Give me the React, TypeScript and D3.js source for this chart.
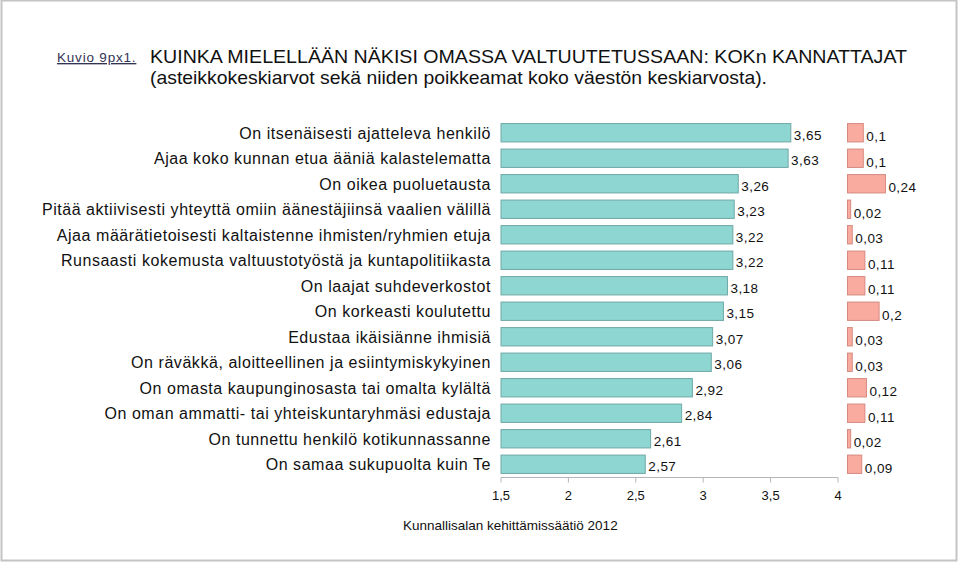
import React from "react";
import * as d3 from "d3";

const categories: string[] = [
  "On itsenäisesti ajatteleva henkilö",
  "Ajaa koko kunnan etua ääniä kalastelematta",
  "On oikea puoluetausta",
  "Pitää aktiivisesti yhteyttä omiin äänestäjiinsä vaalien välillä",
  "Ajaa määrätietoisesti kaltaistenne ihmisten/ryhmien etuja",
  "Runsaasti kokemusta valtuustotyöstä ja kuntapolitiikasta",
  "On laajat suhdeverkostot",
  "On korkeasti koulutettu",
  "Edustaa ikäisiänne ihmisiä",
  "On räväkkä, aloitteellinen ja esiintymiskykyinen",
  "On omasta kaupunginosasta tai omalta kylältä",
  "On oman ammatti- tai yhteiskuntaryhmäsi edustaja",
  "On tunnettu henkilö kotikunnassanne",
  "On samaa sukupuolta kuin Te",
];
const means: number[] = [3.65, 3.63, 3.26, 3.23, 3.22, 3.22, 3.18, 3.15, 3.07, 3.06, 2.92, 2.84, 2.61, 2.57];
const deviations: number[] = [0.1, 0.1, 0.24, 0.02, 0.03, 0.11, 0.11, 0.2, 0.03, 0.03, 0.12, 0.11, 0.02, 0.09];
const xTicks: number[] = [1.5, 2, 2.5, 3, 3.5, 4];

const fmt = (v: number) => String(v).replace(".", ",");

export default function App() {
  const W = 960, H = 563;
  const x = d3.scaleLinear().domain([1.5, 4]).range([501, 838]);
  const xd = d3.scaleLinear().domain([0, 0.25]).range([847.5, 887]);
  const y = d3.scaleBand<string>().domain(categories).range([120, 477]).paddingInner(0.28).paddingOuter(0.14);
  const axisY = 477.5;
  const font = "'Liberation Sans', Arial, Helvetica, sans-serif";
  return (
    <svg width={W} height={H} style={{ position: "absolute", left: 0, top: 0 }} fontFamily={font}>
      <rect x={0} y={0} width={W} height={H} fill="#fff" />
      <rect x={1.5} y={0.5} width={955} height={560} fill="none" stroke="#c4c4c4" strokeWidth={2} />
      <text x={57} y={62} fontSize={13.5} letterSpacing={0.8} fill="#333355" textDecoration="underline">Kuvio 9px1.</text>
      <text x={150} y={62.5} fontSize={19} fill="#111" textLength={757} lengthAdjust="spacingAndGlyphs">KUINKA MIELELLÄÄN NÄKISI OMASSA VALTUUTETUSSAAN: KOKn KANNATTAJAT</text>
      <text x={150} y={84} fontSize={19} fill="#111" textLength={617} lengthAdjust="spacingAndGlyphs">(asteikkokeskiarvot sekä niiden poikkeamat koko väestön keskiarvosta).</text>
      {categories.map((c, i) => {
        const yy = y(c)!;
        const bw = y.bandwidth();
        return (
          <g key={c}>
            <text x={491} y={yy + bw / 2 + 5.8} fontSize={16} letterSpacing={0.55} textAnchor="end" fill="#111">{c}</text>
            <rect x={x(1.5)} y={yy} width={x(means[i]) - x(1.5)} height={bw} fill="#8ed6d2" stroke="#6fa9a6" strokeWidth={1} />
            <text x={x(means[i]) + 3} y={yy + bw / 2 + 7} fontSize={13.5} letterSpacing={0.45} fill="#111">{fmt(means[i])}</text>
            <rect x={xd(0)} y={yy} width={xd(deviations[i]) - xd(0)} height={bw} fill="#f9aba0" stroke="#d68a80" strokeWidth={1} />
            <text x={xd(deviations[i]) + 3} y={yy + bw / 2 + 8.5} fontSize={13.5} letterSpacing={0.45} fill="#111">{fmt(deviations[i])}</text>
          </g>
        );
      })}
      <line x1={x(1.5)} x2={x(4)} y1={axisY} y2={axisY} stroke="#b5b5b5" strokeWidth={1} />
      {xTicks.map((t) => (
        <g key={t}>
          <line x1={x(t)} x2={x(t)} y1={axisY} y2={axisY + 5} stroke="#b5b5b5" strokeWidth={1} />
          <text x={x(t)} y={500} fontSize={13} textAnchor="middle" fill="#111">{fmt(t)}</text>
        </g>
      ))}
      <text x={403} y={530} fontSize={13.5} fill="#111">Kunnallisalan kehittämissäätiö 2012</text>
    </svg>
  );
}
